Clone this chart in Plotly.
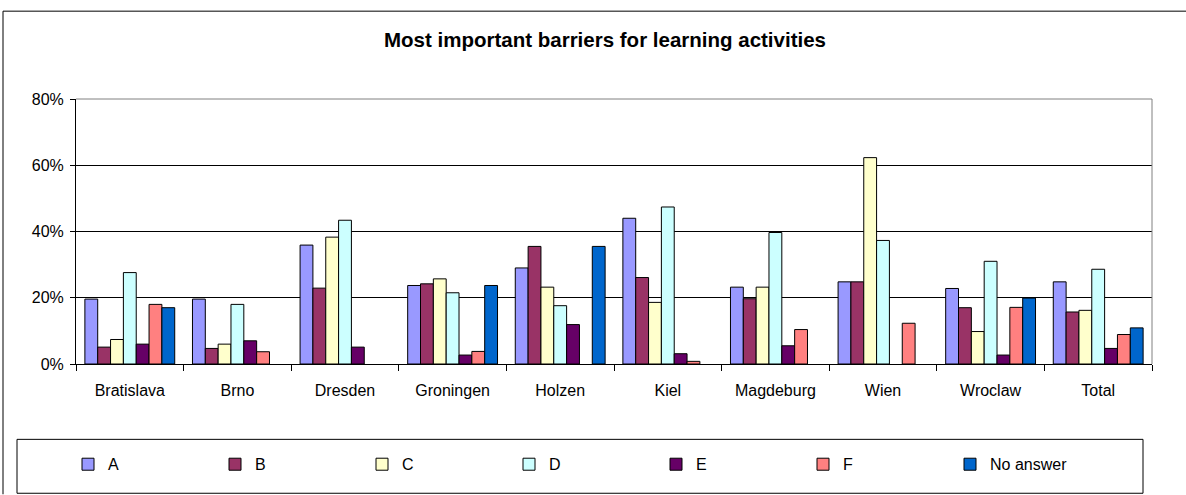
import plotly.graph_objects as go

categories = ["Bratislava", "Brno", "Dresden", "Groningen", "Holzen", "Kiel",
              "Magdeburg", "Wien", "Wroclaw", "Total"]
series_names = ["A", "B", "C", "D", "E", "F", "No answer"]
A = [19.6, 19.6, 35.9, 23.7, 29.0, 44.0, 23.2, 24.8, 22.8, 24.8]
B = [5.1, 4.7, 22.9, 24.2, 35.5, 26.1, 19.7, 24.8, 17.0, 15.7]
C = [7.4, 6.0, 38.3, 25.7, 23.2, 18.6, 23.2, 62.3, 9.8, 16.2]
D = [27.6, 18.0, 43.4, 21.5, 17.6, 47.4, 39.7, 37.3, 31.0, 28.6]
E = [6.0, 7.0, 5.1, 2.7, 11.9, 3.1, 5.5, None, 2.7, 4.7]
F = [18.0, 3.7, None, 3.8, None, 0.8, 10.4, 12.3, 17.1, 8.9]
NA = [17.0, None, None, 23.7, 35.5, None, None, None, 19.9, 10.9]
colors = ["#9999FF", "#993366", "#FFFFCC", "#CCFFFF", "#660066", "#FF8080", "#0066CC"]

fig = go.Figure()
for name, vals, col in zip(series_names, [A, B, C, D, E, F, NA], colors):
    fig.add_trace(go.Bar(
        x=categories,
        y=[None if v is None else v / 100 for v in vals],
        name=name,
        marker=dict(color=col, line=dict(color="#000000", width=1)),
    ))

W, H = 1186, 495
L, R, T, Bm = 76, 34, 99, 130.5
pw, ph = W - L - R, H - T - Bm

def px(x):
    return (x - L) / pw

def py(y):
    return (H - Bm - y) / ph

shapes = [
    # outer chart frame
    dict(type="line", xref="paper", yref="paper", x0=px(3), x1=px(1186), y0=py(11), y1=py(11),
         line=dict(color="#000000", width=1)),
    dict(type="line", xref="paper", yref="paper", x0=px(3), x1=px(3), y0=py(11), y1=py(495),
         line=dict(color="#000000", width=1)),
    # plot area border (top & right)
    dict(type="line", xref="paper", yref="paper", x0=0, x1=1, y0=1, y1=1,
         line=dict(color="#808080", width=1)),
    dict(type="line", xref="paper", yref="paper", x0=1, x1=1, y0=0, y1=1,
         line=dict(color="#808080", width=1)),
    # legend box
    dict(type="rect", xref="paper", yref="paper", x0=px(17), x1=px(1143), y0=py(440), y1=py(494),
         line=dict(color="#000000", width=1), fillcolor="rgba(0,0,0,0)"),
]

FONT = "Liberation Sans, Arial, sans-serif"
fig.update_layout(
    width=W, height=H,
    margin=dict(l=L, r=R, t=T, b=Bm, pad=0),
    paper_bgcolor="#FFFFFF", plot_bgcolor="#FFFFFF",
    font=dict(family=FONT, color="#000000", size=16),
    title=dict(text="<b>Most important barriers for learning activities</b>",
               x=605 / W, xanchor="center", y=1 - 40 / H, yanchor="middle",
               font=dict(size=20.5, family=FONT)),
    barmode="group", bargap=0.165, bargroupgap=0,
    showlegend=True,
    legend=dict(orientation="h", x=px(68), xanchor="left", y=py(465), yanchor="middle",
                entrywidth=102, entrywidthmode="pixels", font=dict(size=16),
                bgcolor="rgba(0,0,0,0)", borderwidth=0, traceorder="normal"),
    shapes=shapes,
    xaxis=dict(type="category", showline=True, linecolor="#000000", linewidth=1,
               ticks="outside", ticklen=6, tickcolor="#000000", tickson="boundaries",
               showgrid=False, tickfont=dict(size=16), ticklabelstandoff=12,
               fixedrange=True),
    yaxis=dict(range=[0, 0.8], dtick=0.2, tickformat=".0%", showline=True,
               linecolor="#000000", linewidth=1, ticks="outside", ticklen=5,
               tickcolor="#000000", showgrid=True, gridcolor="#000000", gridwidth=1,
               zeroline=False, tickfont=dict(size=16), ticklabelstandoff=3),
)

fig.write_html("out.html", config={"displayModeBar": False},
               post_script="document.body.style.margin='0px';")
